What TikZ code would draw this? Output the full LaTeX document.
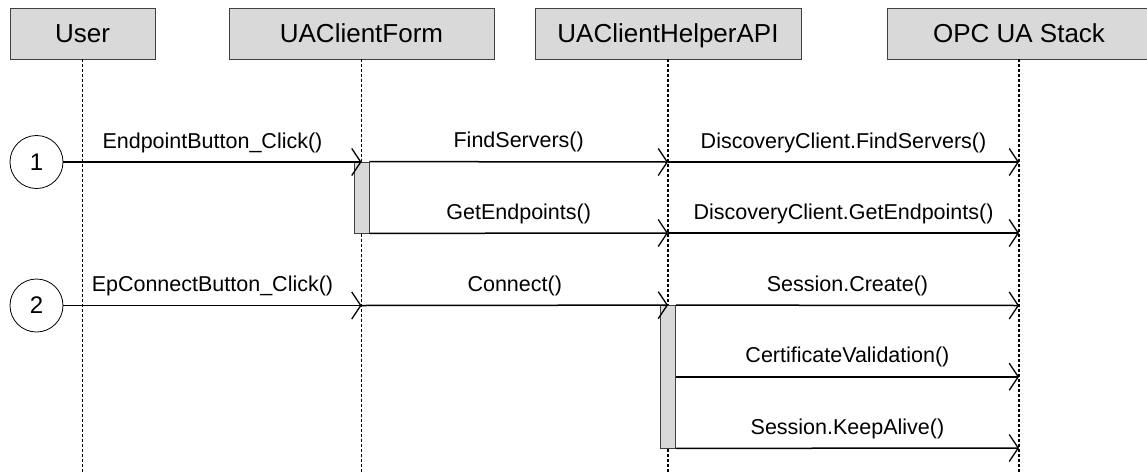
\documentclass[tikz,border=0pt]{standalone}
\usepackage{fontspec}
\setmainfont{Liberation Sans}
\usetikzlibrary{arrows.meta}
\definecolor{boxgray}{HTML}{D9D9D9}
\definecolor{edgegray}{HTML}{404040}
\begin{document}
\begin{tikzpicture}[x=1pt,y=-1pt,
  header/.style={draw=edgegray, fill=boxgray, line width=0.8pt, minimum height=51pt,
    font=\fontsize{26}{30}\selectfont, text height=18.6pt, text depth=0pt, inner sep=0pt},
  life/.style={line width=1.4pt, dash pattern=on 3pt off 2pt},
  msg/.style={line width=1.5pt, -{Straight Barb[length=9pt,width=27pt,line width=1.3pt]}},
  lbl/.style={font=\fontsize{21.5}{26}\selectfont, anchor=base, yshift=14pt},
  actbar/.style={draw=edgegray, fill=boxgray, line width=0.8pt, minimum width=15pt, inner sep=0pt},
  num/.style={circle, draw, line width=0.8pt, minimum size=53pt, inner sep=0pt,
    font=\fontsize{24}{28}\selectfont}]
\useasboundingbox (0,0) rectangle (1147,474);
% headers
\node[header, minimum width=145pt] (user) at (82.5,33.5) {User};
\node[header, minimum width=265pt] (form) at (361.5,33.5) {UAClientForm};
\node[header, minimum width=266pt] (helper) at (668,33.5) {UAClientHelperAPI};
\node[header, minimum width=264pt] (stack) at (1019,33.5) {OPC UA Stack};
% lifeline ends
\coordinate (userend) at (82.5,474);
\coordinate (formend) at (361.5,474);
\coordinate (helperend) at (668,474);
\coordinate (stackend) at (1019,474);
\draw[life] (user.south) -- (userend);
\draw[life] (form.south) -- (formend);
\draw[life] (helper.south) -- (helperend);
\draw[life] (stack.south) -- (stackend);
% activation bars
\node[actbar, minimum height=71pt] (bar1) at (361.5,197.5) {};
\node[actbar, minimum height=142.5pt] (bar2) at (668,376.75) {};
% step circles
\node[num] (c1) at (36.5,162) {1};
\node[num] (c2) at (36.5,305.5) {2};
% coordinates on lifelines
\coordinate (f1) at (361.5,162);
\coordinate (h1) at (668,162);
\coordinate (h2) at (668,233);
\coordinate (s1) at (1019,162);
\coordinate (s2) at (1019,233);
\coordinate (f3) at (361.5,305.5);
\coordinate (s3) at (1019,305.5);
\coordinate (s4) at (1019,376.75);
\coordinate (s5) at (1019,448);
% messages
\draw[msg] (c1) -- (f1) node[lbl, midway] {EndpointButton\_Click()};
\draw[msg] (bar1.north east) -- (h1) node[lbl, midway] {FindServers()};
\draw[msg] (bar1.south east) -- (h2) node[lbl, midway] {GetEndpoints()};
\draw[msg] (h1) -- (s1) node[lbl, midway] {DiscoveryClient.FindServers()};
\draw[msg] (h2) -- (s2) node[lbl, midway] {DiscoveryClient.GetEndpoints()};
\draw[msg] (c2) -- (f3) node[lbl, midway] {EpConnectButton\_Click()};
\draw[msg] (f3) -- (bar2.north) node[lbl, midway] {Connect()};
\draw[msg] (bar2.north east) -- (s3) node[lbl, midway] {Session.Create()};
\draw[msg] (bar2.east) -- (s4) node[lbl, midway] {CertificateValidation()};
\draw[msg] (bar2.south east) -- (s5) node[lbl, midway] {Session.KeepAlive()};
\end{tikzpicture}
\end{document}
